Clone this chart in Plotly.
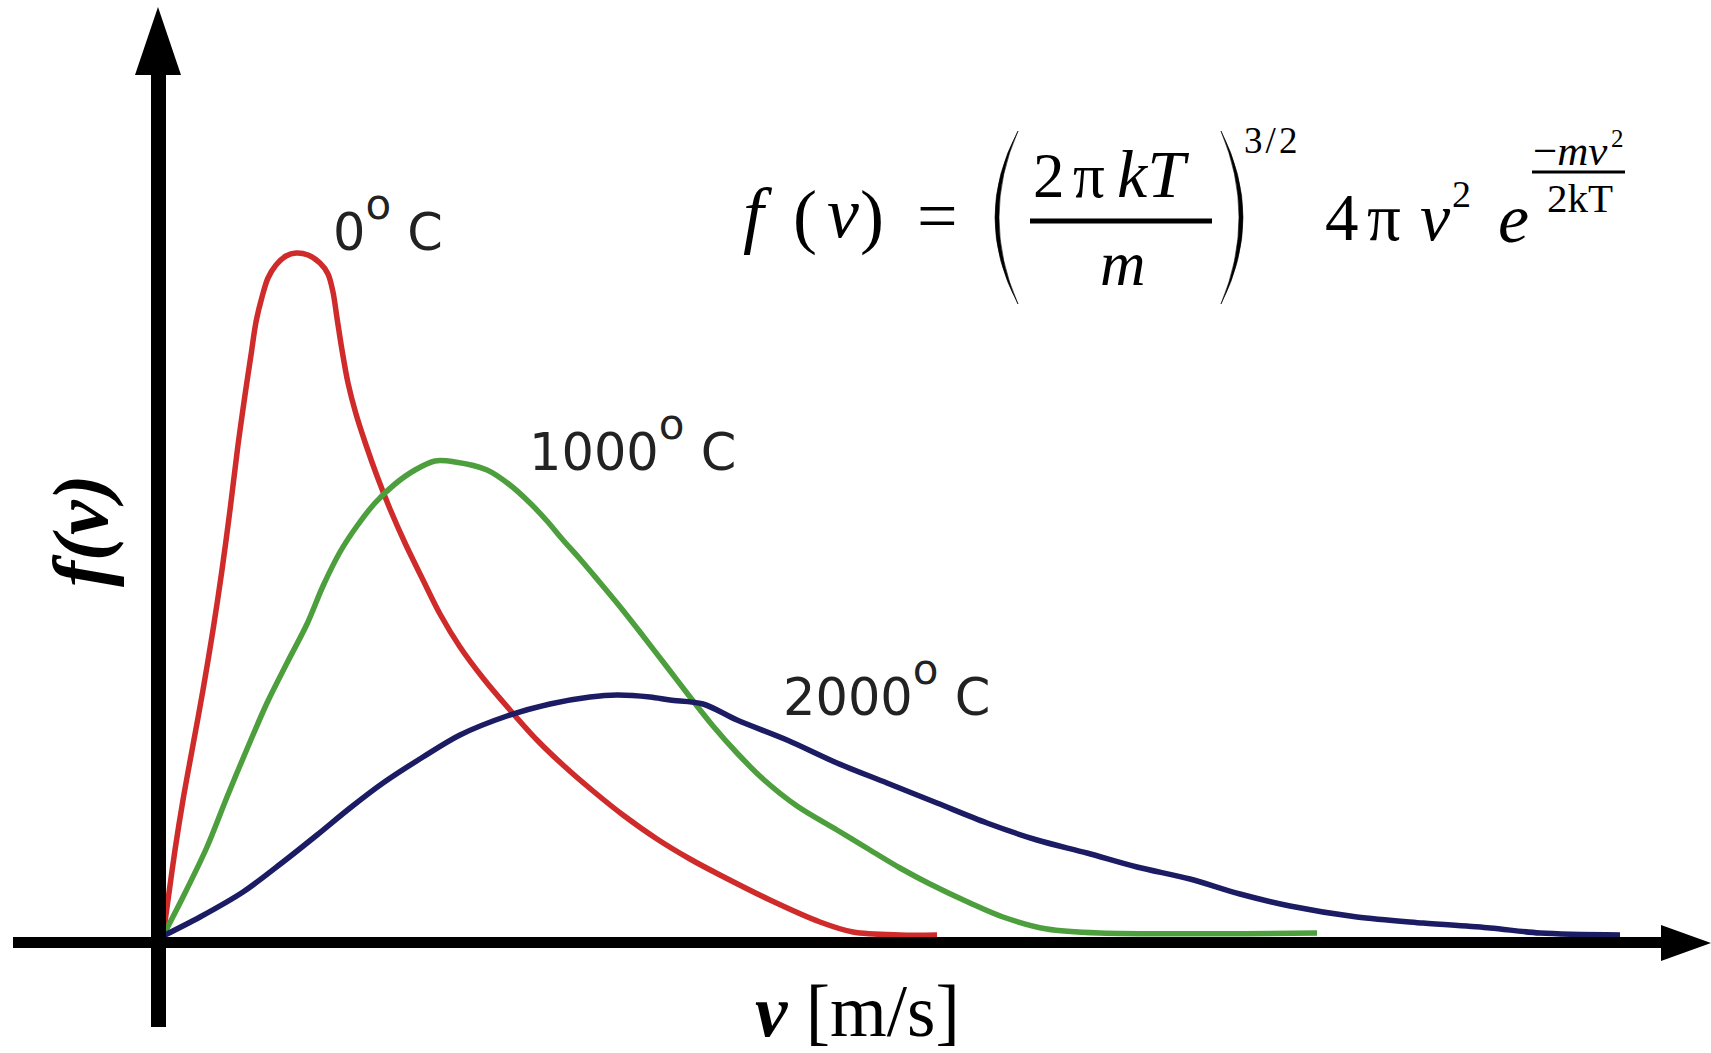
import plotly.graph_objects as go

W, H = 1711, 1053

# ---------------- data (v in m/s, f(v) arbitrary units) ----------------
v_0C = [0, 15, 36, 60, 90, 120, 150, 177, 201, 225, 246, 264, 279, 297, 315, 339, 369, 399,
        435, 471, 495, 510, 522, 537, 555, 579, 609, 642, 681, 726, 780, 831, 891, 960, 1041,
        1122, 1200, 1290, 1380, 1482, 1581, 1671, 1821, 1971, 2070, 2211, 2322]
f_0C = [0, 3.6, 8.6, 13.6, 19.1, 24.6, 30.6, 36.6, 42.6, 49.1, 54.1, 58.1, 61.4, 63.9, 65.8,
        67.1, 68.0, 68.3, 68.1, 67.3, 66.2, 64.4, 61.8, 58.6, 55.3, 52.2, 49.1, 46.0, 42.7,
        39.3, 35.6, 32.2, 28.9, 25.8, 22.6, 19.6, 17.1, 14.5, 12.1, 9.7, 7.7, 6.1, 3.6, 1.4,
        0.4, 0.1, 0.1]

v_1000C = [0, 60, 132, 192, 252, 312, 372, 432, 480, 531, 582, 636, 696, 756, 816, 876, 972,
           1041, 1101, 1152, 1200, 1251, 1302, 1362, 1431, 1512, 1581, 1650, 1722, 1800, 1902,
           2022, 2121, 2211, 2301, 2421, 2520, 2652, 2811, 3462]
f_1000C = [0, 3.9, 8.9, 13.9, 18.7, 23.3, 27.3, 31.2, 35.0, 38.4, 41.0, 43.3, 45.2, 46.6, 47.5,
           47.4, 46.6, 45.1, 43.3, 41.5, 39.6, 37.7, 35.7, 33.3, 30.4, 26.9, 23.9, 21.0, 18.3,
           15.7, 13.0, 10.6, 8.6, 6.8, 5.2, 3.3, 1.9, 0.7, 0.3, 0.3]

v_2000C = [0, 111, 240, 360, 462, 561, 660, 780, 891, 1032, 1161, 1281, 1362, 1461, 1521, 1620,
           1722, 1872, 2022, 2172, 2322, 2472, 2622, 2772, 2922, 3081, 3231, 3381, 3582, 3780,
           3981, 4131, 4371]
f_2000C = [0, 1.9, 4.4, 7.4, 10.1, 12.8, 15.3, 17.9, 20.1, 22.0, 23.2, 23.9, 24.1, 23.9, 23.6,
           23.2, 21.6, 19.6, 17.3, 15.3, 13.3, 11.3, 9.6, 8.3, 6.9, 5.7, 4.2, 3.0, 1.9, 1.3,
           0.8, 0.3, 0.1]

series_names = ["0° C", "1000° C", "2000° C"]
series_colors = ["#cf2b2b", "#4c9f3c", "#1c1c64"]
label_numbers = ["0", "1000", "2000"]

x_title = "<b><i>v</i></b> [m/s]"
y_title = "<b><i>f(v)</i></b>"

# ---------------- layout geometry ----------------
X0_PX, Y0_PX = 163, 936          # pixel of the origin
V_PER_PX, F_PER_PX = 3.0, 0.1    # data units per pixel

SERIF = "Liberation Serif"
SANS = "DejaVu Sans"


def PX(x):
    return x / W


def PY(y):
    return 1 - y / H


fig = go.Figure()
for v, f, name, col in zip([v_0C, v_1000C, v_2000C], [f_0C, f_1000C, f_2000C],
                           series_names, series_colors):
    fig.add_trace(go.Scatter(x=v, y=f, mode="lines", name=name,
                             line=dict(color=col, width=5.5, shape="spline", smoothing=0.9),
                             hoverinfo="skip"))

anns = []


def txt(s, x, baseline, size, family=SERIF, color="black", descent=0.216, dsize=None):
    dsize = dsize or size
    anns.append(dict(text=s, xref="paper", yref="paper", x=PX(x - 2),
                     y=PY(baseline + descent * dsize + 2), xanchor="left", yanchor="bottom",
                     showarrow=False, font=dict(family=family, size=size, color=color)))


# temperature labels (raised thin degree ring)
label_pos = [(333, 250), (529, 470), (783, 715)]
for num, (lx, lb) in zip(label_numbers, label_pos):
    s = num + "<span style='font-size:42px;baseline-shift:31px'>o</span> C"
    txt(s, lx, lb, 51, family=SANS, color="#222222", descent=0.236)

# formula pieces
txt("<i>f</i>", 743, 239, 74)
txt("(", 793, 240, 72)
txt("<i>v</i>", 827, 237, 72)
txt(")", 860, 240, 72)
txt("=", 917, 240, 72)
txt("2", 1033, 197, 63)
txt("π", 1073, 197, 63)
txt("<i>kT</i>", 1117, 197, 68)
txt("<i>m</i>", 1100, 285, 63)
txt("3\u200a/\u200a2", 1244, 153, 37)
txt("4", 1325, 240, 67)
txt("π", 1367, 240, 67)
txt("<i>v</i>", 1420, 240, 68)
txt("2", 1452, 207, 38)
txt("<i>e</i>", 1498, 242, 70)
txt("−<i>mv</i>", 1533, 165, 43)
txt("2", 1611, 147, 25)
txt("2kT", 1547, 212, 41)

# axis titles
anns.append(dict(text=y_title, xref="paper", yref="paper", x=PX(80), y=PY(531),
                 xanchor="center", yanchor="middle", textangle=-90, showarrow=False,
                 font=dict(family=SERIF, size=78, color="black")))
txt(x_title, 755, 1036, 73)

shapes = []


def rect(x0, y0, x1, y1):
    shapes.append(dict(type="rect", xref="paper", yref="paper", x0=PX(x0), x1=PX(x1),
                       y0=PY(y1), y1=PY(y0), fillcolor="black", line=dict(width=0),
                       layer="above"))


def poly(pts, fill="black"):
    d = "M " + " L ".join(f"{PX(x):.5f},{PY(y):.5f}" for x, y in pts) + " Z"
    shapes.append(dict(type="path", xref="paper", yref="paper", path=d, fillcolor=fill,
                       line=dict(width=0), layer="above"))


def hline(x0, x1, y, w):
    shapes.append(dict(type="line", xref="paper", yref="paper", x0=PX(x0), x1=PX(x1),
                       y0=PY(y), y1=PY(y), line=dict(color="black", width=w), layer="above"))


def paren(xe, ytop, ybot, xo, xi):
    ym = (ytop + ybot) / 2
    co = 2 * xo - xe
    ci = 2 * xi - xe
    d = (f"M {PX(xe):.5f},{PY(ytop):.5f} Q {PX(co):.5f},{PY(ym):.5f} {PX(xe):.5f},{PY(ybot):.5f} "
         f"Q {PX(ci):.5f},{PY(ym):.5f} {PX(xe):.5f},{PY(ytop):.5f} Z")
    shapes.append(dict(type="path", xref="paper", yref="paper", path=d, fillcolor="black",
                       line=dict(color="black", width=0.6), layer="above"))


# axes with arrows
rect(151, 74, 166, 1027)
poly([(135, 75), (181, 75), (158, 7)])
rect(13, 937, 1663, 948)
poly([(1661, 925), (1661, 961), (1711, 943)])

# formula fraction bars and big parentheses
hline(1030, 1212, 221, 5)
hline(1532, 1625, 172, 3)
paren(1018, 131, 304, 995, 999)
paren(1221, 131, 304, 1243, 1239)

xr = [(0 - X0_PX) * V_PER_PX, (W - X0_PX) * V_PER_PX]
yr = [(Y0_PX - H) * F_PER_PX, Y0_PX * F_PER_PX]

fig.update_layout(
    width=W, height=H, margin=dict(l=0, r=0, t=0, b=0),
    paper_bgcolor="white", plot_bgcolor="white", showlegend=False,
    xaxis=dict(range=xr, visible=False, fixedrange=True),
    yaxis=dict(range=yr, visible=False, fixedrange=True),
    annotations=anns, shapes=shapes,
)

fig.write_html("out.html")
